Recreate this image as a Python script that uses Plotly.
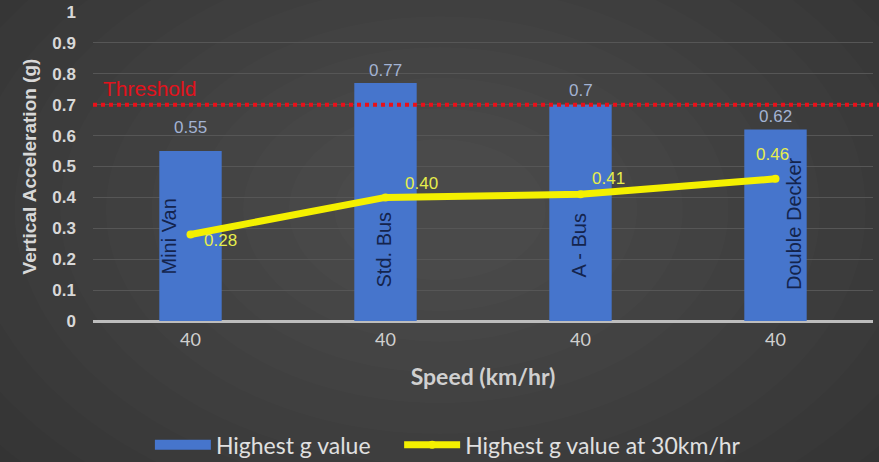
import plotly.graph_objects as go

# Data
vehicles = ["Mini Van", "Std. Bus", "A - Bus", "Double Decker"]
speeds = ["40", "40", "40", "40"]
highest_g = [0.55, 0.77, 0.70, 0.62]
highest_g_30 = [0.28, 0.40, 0.41, 0.46]
threshold = 0.7
y_ticks = [0, 0.1, 0.2, 0.3, 0.4, 0.5, 0.6, 0.7, 0.8, 0.9, 1]

BAR_BLUE = "#4675cc"
LINE_YELLOW = "#f4f000"

fig = go.Figure()

# soft radial backdrop: stacked translucent ellipses, lighter towards the middle
n_rings = 14
for i in range(n_rings):
    f = 1 - i / n_rings
    rx, ry = 640 * f + 60, 430 * f + 40
    fig.add_shape(type="circle", layer="below", xref="paper", yref="paper",
                  xsizemode="pixel", ysizemode="pixel", xanchor=0.445, yanchor=0.36,
                  x0=-rx, x1=rx, y0=-ry, y1=ry,
                  fillcolor="rgba(255,255,255,0.012)", line=dict(width=0))

fig.add_trace(go.Bar(
    x=vehicles, y=highest_g, name="Highest g value", showlegend=False,
    marker=dict(color=BAR_BLUE, line=dict(width=0)),
    width=0.32,
))

# wide legend swatch for the bar series
fig.add_trace(go.Scatter(
    x=[None], y=[None], mode="lines", name="Highest g value" + "\u00a0" * 4,
    line=dict(color=BAR_BLUE, width=14),
))

fig.add_trace(go.Scatter(
    x=vehicles, y=highest_g_30, name="Highest g value at 30km/hr",
    mode="lines+markers",
    line=dict(color=LINE_YELLOW, width=7),
    marker=dict(color=LINE_YELLOW, size=8),
    cliponaxis=False,
))

# labels for the 30 km/hr line, offset from each point
lbl_dx = [30, 36, 28, -3]
lbl_dy = [-6, 14, 16, 24]
for cat, v, dx, dy in zip(vehicles, highest_g_30, lbl_dx, lbl_dy):
    fig.add_annotation(x=cat, y=v, text=f"{v:.2f}", showarrow=False,
                       xanchor="center", yanchor="middle", xshift=dx, yshift=dy,
                       font=dict(color="#e6ee4c", size=17, family="Liberation Sans"))

# value labels above the bars
val_dy = [12, 1, 3, 1]
for cat, v, dy in zip(vehicles, highest_g, val_dy):
    fig.add_annotation(x=cat, y=v, text=f"{v:g}", showarrow=False, yanchor="bottom",
                       yshift=dy, font=dict(color="#a3b3d3", size=17, family="Liberation Sans"))

# vehicle names written upright inside each bar
name_dx = [-22, -2, -2, 18]
name_dy = [44, 31, 41, 29]
for cat, dx, dy in zip(vehicles, name_dx, name_dy):
    fig.add_annotation(x=cat, y=0, text=cat, showarrow=False, textangle=-90,
                       yanchor="bottom", xshift=dx, yshift=dy,
                       font=dict(color="#14244d", size=20, family="Liberation Sans"))

# threshold line and label
fig.add_shape(type="line", xref="paper", yref="y", x0=0, x1=1.02, y0=threshold, y1=threshold,
              line=dict(color="#e8101a", width=4, dash="dot"))
fig.add_annotation(xref="paper", yref="y", x=0.01, y=threshold, text="Threshold",
                   showarrow=False, xanchor="left", yanchor="bottom", yshift=3,
                   font=dict(color="#e3121c", size=21, family="Liberation Sans"))

fig.update_layout(
    width=879, height=462,
    margin=dict(l=93, r=6, t=12, b=141, autoexpand=False),
    paper_bgcolor="#2e2e2e", plot_bgcolor="rgba(0,0,0,0)",
    showlegend=True,
    legend=dict(orientation="h", x=0.455, xanchor="center", y=0.037, yanchor="middle",
                yref="container", bgcolor="rgba(0,0,0,0)",
                font=dict(color="#e0e0e0", size=23, family="Lato"),
                itemwidth=56, traceorder="normal"),
    xaxis=dict(
        tickmode="array", tickvals=vehicles, ticktext=speeds, automargin=False,
        tickfont=dict(color="#d0d0d0", size=18, family="Lato"),
        showgrid=False, showline=False, zeroline=False, ticks="", ticklabelstandoff=6,
        title=dict(text="<b>Speed (km/hr)</b>", standoff=19,
                   font=dict(color="#d0d0d0", size=23, family="Lato")),
    ),
    yaxis=dict(
        range=[0, 1.0], tickvals=y_ticks, ticktext=[f"<b>{t:g}</b>" for t in y_ticks],
        automargin=False,
        tickfont=dict(color="#d8d8d8", size=17, family="Liberation Sans"),
        showgrid=True, gridcolor="#565656", gridwidth=1,
        zeroline=True, zerolinecolor="#bdbdbd", zerolinewidth=3,
        ticks="", ticklabelstandoff=16,
        title=dict(text="<b>Vertical Acceleration (g)</b>", standoff=10,
                   font=dict(color="#d8d8d8", size=19, family="Liberation Sans")),
    ),
)

fig.write_html("out.html")
